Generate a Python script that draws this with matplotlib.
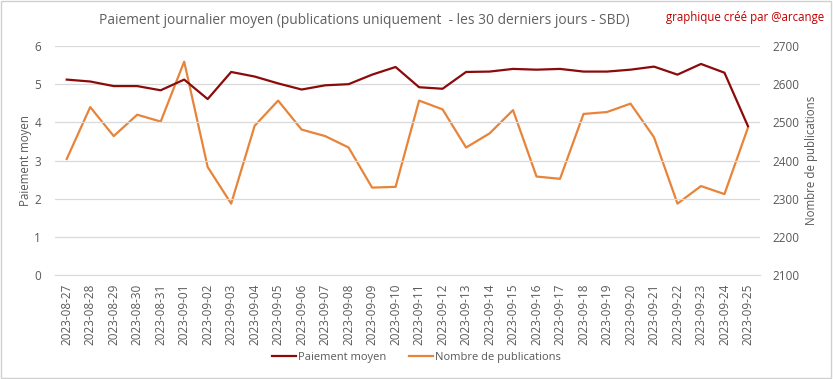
import numpy as np
import matplotlib.pyplot as plt
from matplotlib.lines import Line2D
from matplotlib.patches import Rectangle

plt.rcParams['font.family'] = ['Open Sans', 'DejaVu Sans']

dates = ['2023-08-27', '2023-08-28', '2023-08-29', '2023-08-30', '2023-08-31',
         '2023-09-01', '2023-09-02', '2023-09-03', '2023-09-04', '2023-09-05',
         '2023-09-06', '2023-09-07', '2023-09-08', '2023-09-09', '2023-09-10',
         '2023-09-11', '2023-09-12', '2023-09-13', '2023-09-14', '2023-09-15',
         '2023-09-16', '2023-09-17', '2023-09-18', '2023-09-19', '2023-09-20',
         '2023-09-21', '2023-09-22', '2023-09-23', '2023-09-24', '2023-09-25']

paiement = [5.12, 5.07, 4.95, 4.95, 4.84, 5.12, 4.61, 5.32, 5.20, 5.02,
            4.86, 4.97, 5.00, 5.25, 5.45, 4.92, 4.88, 5.32, 5.33, 5.40,
            5.38, 5.40, 5.33, 5.33, 5.38, 5.46, 5.25, 5.53, 5.30, 3.90]

publications = [2404, 2540, 2464, 2520, 2502, 2659, 2383, 2287, 2491, 2557,
                2481, 2464, 2434, 2329, 2331, 2557, 2534, 2434, 2471, 2532,
                2358, 2352, 2522, 2527, 2549, 2461, 2287, 2333, 2312, 2486]

RED = '#8B0A0A'
ORANGE = '#E8843A'
GRAY = '#595959'
GRID = '#D9D9D9'

fig = plt.figure(figsize=(8.33, 3.79), dpi=100)
ax = fig.add_axes([0.066, 0.2744, 0.846, 0.6042])
ax2 = ax.twinx()

x = np.arange(len(dates))
ax.plot(x, paiement, color=RED, lw=1.6, zorder=3)
ax2.plot(x, publications, color=ORANGE, lw=1.6)
ax.set_zorder(ax2.get_zorder() + 1)
ax.patch.set_visible(False)

ax.set_xlim(-0.5, len(dates) - 0.5)
ax.set_ylim(0, 6)
ax2.set_ylim(2100, 2700)
ax.set_yticks(np.arange(0, 7, 1))
ax2.set_yticks(np.arange(2100, 2800, 100))
ax.grid(axis='y', color=GRID, lw=0.9)
ax.set_axisbelow(True)

ax.set_xticks(x)
ax.set_xticklabels(dates, rotation=90, fontsize=7.8, color=GRAY)
for a in (ax, ax2):
    for s in a.spines.values():
        s.set_visible(False)
    a.tick_params(length=0, colors=GRAY, labelsize=8.5)
ax.spines['bottom'].set_visible(True)
ax.spines['bottom'].set_color(GRID)
ax.tick_params(axis='x', pad=6)
ax.tick_params(axis='y', pad=10)
ax2.tick_params(axis='y', pad=9)

ax.set_ylabel('Paiement moyen', color=GRAY, fontsize=8.3)
ax2.set_ylabel('Nombre de publications', color=GRAY, fontsize=8.3)
ax.yaxis.set_label_coords(-0.033, 0.5)
ax2.yaxis.set_label_coords(1.064, 0.5)

fig.text(0.437, 0.945, 'Paiement journalier moyen (publications uniquement  - les 30 derniers jours - SBD)',
         ha='center', va='center', fontsize=9.9, color='#606060')
fig.text(0.99, 0.955, 'graphique créé par @arcange', ha='right', va='center',
         fontsize=8.3, color='#C00000')

handles = [Line2D([], [], color=RED, lw=1.6), Line2D([], [], color=ORANGE, lw=1.6)]
fig.legend(handles, ['Paiement moyen', 'Nombre de publications'], loc='center',
           bbox_to_anchor=(0.5, 0.058), ncol=2, frameon=False, fontsize=8,
           labelcolor=GRAY, handlelength=2.2, handletextpad=0.2, columnspacing=2.0)

fig.add_artist(Rectangle((0.001, 0.002), 0.997, 0.995, transform=fig.transFigure,
                         fill=False, edgecolor='#D0D0D0', lw=1))

fig.savefig('out.png', dpi=100)
